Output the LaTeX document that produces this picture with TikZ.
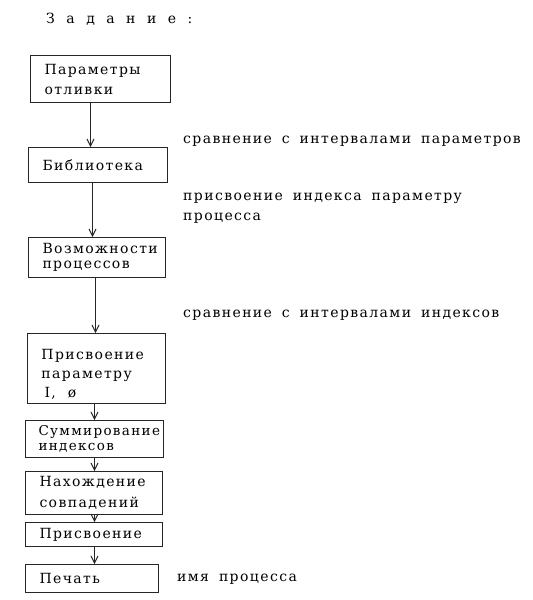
\documentclass[tikz,border=0pt]{standalone}
\usepackage{fontspec}
\setmainfont[LetterSpace=10,WordSpace=1.7]{DejaVu Serif}
\usetikzlibrary{arrows.meta}
\tikzset{
  box/.style={draw=black!85, line width=1pt, anchor=north west, inner xsep=14pt, inner ysep=0pt, align=left, font=\fontsize{14}{20}\selectfont},
  lbl/.style={anchor=base west, inner sep=0pt, align=left, font=\fontsize{14}{20}\selectfont},
  arr/.style={draw=black!85, line width=1pt, -{Straight Barb[length=7pt,width=7pt]}}
}
\begin{document}
\begin{tikzpicture}[x=1pt,y=-1pt]
\useasboundingbox[fill=white] (0,0) rectangle (533,600);
\node[lbl] (head) at (46,23) {\spaceskip=11.5pt З а д а н и е :};
\node[box, minimum width=140pt, minimum height=47pt, text width=112pt] (b1) at (30,55) {Параметры\\отливки};
\node[box, minimum width=139pt, minimum height=35pt, text width=111pt] (b2) at (28,147) {Библиотека};
\node[box, minimum width=137pt, minimum height=40pt, text width=109pt, font=\fontsize{14}{15.5}\selectfont] (b3) at (28,237) {Возможности\\процессов};
\node[box, minimum width=138pt, minimum height=70pt, text width=110pt, font=\fontsize{14}{19}\selectfont] (b4) at (27,333) {\rule{0pt}{22pt}Присвоение\\параметру\\\hspace*{3pt}I,\hspace{12pt}ø};
\node[box, minimum width=138pt, minimum height=37pt, text width=112pt, inner xsep=13pt, font=\fontsize{13.5}{15}\selectfont] (b5) at (25,420) {Суммирование\\индексов};
\node[box, minimum width=137pt, minimum height=43pt, text width=109pt, inner xsep=13pt, font=\fontsize{14}{21}\selectfont] (b6) at (25,471) {Нахождение\\совпадений};
\node[box, minimum width=137pt, minimum height=24pt, text width=109pt, inner xsep=13pt] (b7) at (25,522) {Присвоение};
\node[box, minimum width=133pt, minimum height=28pt, text width=105pt] (b8) at (25,564) {Печать};
\node[lbl] (t1) at (183,143) {сравнение с интервалами параметров};
\node[lbl] (t2) at (183,220) {присвоение индекса параметру\\процесса};
\node[lbl] (t3) at (183,317) {сравнение с интервалами индексов};
\node[lbl] (t4) at (177,581) {имя процесса};
\draw[arr] ([xshift=-10pt]b1.south) -- ([xshift=-7.5pt]b2.north);
\draw[arr] ([xshift=-5.5pt]b2.south) -- ([xshift=-4.5pt]b3.north);
\draw[arr] ([xshift=-1.5pt]b3.south) -- ([xshift=-1pt]b4.north);
\draw[arr] ([xshift=-2pt]b4.south) -- (b5.north);
\draw[arr] (b5.south) -- ([xshift=0.5pt]b6.north);
\draw[arr] ([xshift=0.5pt]b6.south) -- ([xshift=0.5pt]b7.north);
\draw[arr] ([xshift=0.5pt]b7.south) -- ([xshift=2.5pt]b8.north);
\end{tikzpicture}
\end{document}
